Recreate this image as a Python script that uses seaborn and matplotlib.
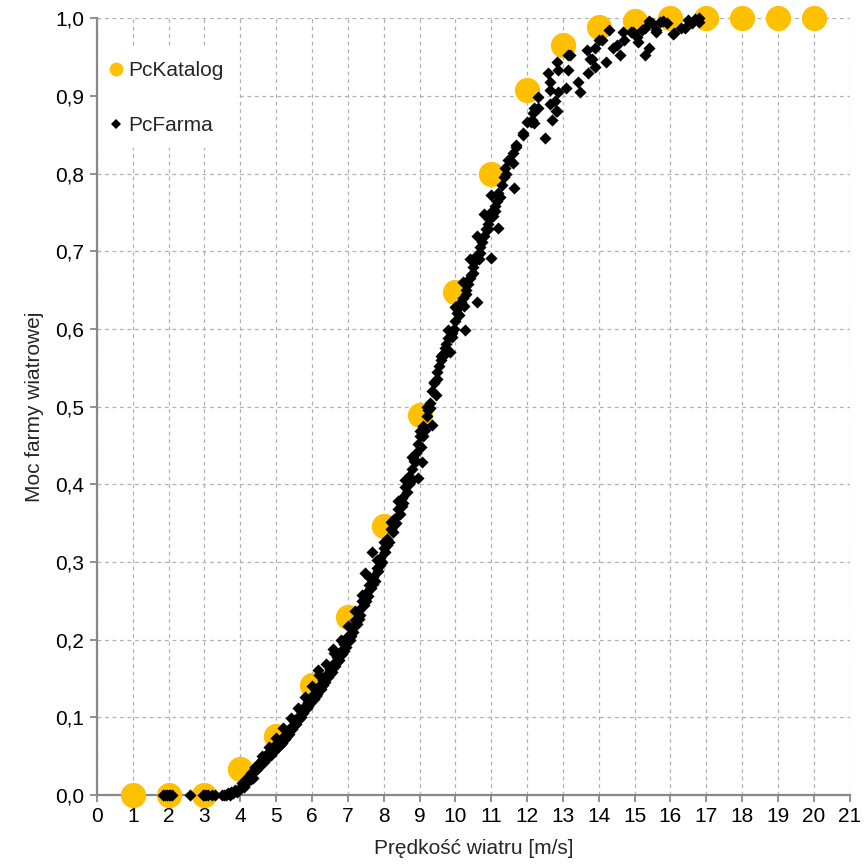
import matplotlib
matplotlib.use('Agg')
import matplotlib.pyplot as plt
from matplotlib.lines import Line2D
import numpy as np
import pandas as pd
import seaborn as sns

# catalogue power curve (gold circles)
katalog_v = [1, 2, 3, 4, 5, 6, 7, 8, 9, 10, 11, 12, 13, 14, 15, 16, 17, 18, 19, 20]
katalog_p = [0.0, 0.0, 0.0, 0.034, 0.076, 0.141, 0.229, 0.346, 0.489, 0.647, 0.799, 0.908,
             0.966, 0.989, 0.997, 1.0, 1.0, 1.0, 1.0, 1.0]

farma_v = [1.85, 1.9, 1.95, 2.0, 2.05, 2.1, 2.6, 2.95, 3.0, 3.05, 3.1, 3.2, 3.3,
           3.5, 3.55, 3.6, 3.65, 3.7, 3.75, 3.8, 3.85, 3.9, 3.95,
           4.0, 4.05, 4.1, 4.15, 4.2, 4.25, 4.3, 4.35, 4.4, 4.45, 4.5, 4.55, 4.6, 4.65,
           4.7, 4.75, 4.8, 4.85, 4.9, 4.95, 5.0, 5.05, 5.1, 5.15, 5.2, 5.25, 5.3, 5.35,
           5.4, 5.45, 5.5, 5.55, 5.6, 5.65, 5.7, 5.75, 5.8, 5.85, 5.9, 5.95, 6.0, 6.05,
           6.1, 6.15, 6.2, 6.25, 6.3, 6.35, 6.4, 6.45, 6.5, 6.55, 6.6, 6.65, 6.7, 6.75,
           6.8, 6.85, 6.9, 6.95, 7.0, 7.05, 7.1, 7.15, 7.2, 7.25, 7.3, 7.35, 7.4, 7.45,
           7.5, 7.55, 7.6, 7.65, 7.7, 7.75, 7.8, 7.85, 7.9, 7.95, 8.0, 8.05, 8.1, 8.15,
           8.2, 8.25, 8.3, 8.35, 8.4, 8.45, 8.5, 8.55, 8.6, 8.65, 8.7, 8.75, 8.8, 8.85,
           8.9, 8.95, 9.0, 9.05, 9.1, 9.15, 9.2, 9.25, 9.3, 9.35, 9.4, 9.45, 9.5, 9.55,
           9.6, 9.65, 9.7, 9.75, 9.8, 9.85, 9.9, 9.95, 10.0, 10.05, 10.1, 10.15, 10.2,
           10.25, 10.3, 10.35, 10.4, 10.45, 10.5, 10.55, 10.6, 10.65, 10.7, 10.75, 10.8,
           10.85, 10.9, 10.95, 11.0, 11.05, 11.1, 11.15, 11.2, 11.25, 11.3, 11.35, 11.4,
           # second pass along the band
           4.1, 4.3, 4.5, 4.7, 4.9, 5.1, 5.3, 5.5, 5.7, 5.9, 6.1, 6.3, 6.5, 6.7, 6.9,
           7.1, 7.3, 7.5, 7.7, 7.9, 8.1, 8.3, 8.5, 8.7, 8.9, 9.1, 9.3, 9.5, 9.7, 9.9,
           10.1, 10.3, 10.5, 10.7, 10.9, 11.1,
           # third pass, left edge of the band
           4.2, 4.4, 4.6, 4.8, 5.0, 5.2, 5.4, 5.6, 5.8, 6.0, 6.2, 6.4, 6.6, 6.8, 7.0,
           7.2, 7.4, 7.6, 7.8, 8.0, 8.2, 8.4, 8.6, 8.8, 9.0, 9.2, 9.4, 9.6, 9.8, 10.0,
           10.2, 10.4, 10.6, 10.8, 11.0,
           # outliers
           6.16, 6.58, 7.47, 7.67, 8.95, 9.06, 9.34, 10.26, 10.6, 11.0, 11.2,
           # upper part
           11.38, 11.46, 11.52, 11.6, 11.6, 11.65, 11.7, 11.7, 11.88, 11.9, 12.0, 12.1,
           12.13, 12.16, 12.2, 12.2, 12.3, 12.3, 12.5, 12.58, 12.63, 12.63, 12.63, 12.7,
           12.77, 12.8, 12.83, 12.83, 12.86, 12.86, 13.1, 13.13, 13.13, 13.2, 13.41,
           13.47, 13.66, 13.7, 13.75, 13.8, 13.9, 13.9, 14.0, 14.08, 14.2, 14.3, 14.4,
           14.5, 14.6, 14.67, 14.7, 14.9, 14.95, 15.06, 15.1, 15.2, 15.3, 15.3, 15.4,
           15.4, 15.5, 15.6, 15.6, 15.7, 15.8, 15.9, 16.06, 16.1, 16.3, 16.4, 16.5,
           16.6, 16.7, 16.8, 16.8]
farma_p = [0.0, 0.0, 0.0, 0.0, 0.0, 0.0, 0.0, 0.0, 0.0, 0.0, 0.0, 0.0, 0.0,
           0.0, 0.0, 0.0, 0.002, 0.0, 0.004, 0.002, 0.006, 0.004, 0.008,
           0.008, 0.015, 0.012, 0.02, 0.018, 0.025, 0.028, 0.022, 0.035, 0.032, 0.04,
           0.038, 0.045, 0.042, 0.05, 0.047, 0.055, 0.052, 0.06, 0.057, 0.065, 0.062,
           0.07, 0.067, 0.075, 0.072, 0.082, 0.078, 0.088, 0.085, 0.095, 0.092, 0.1,
           0.098, 0.108, 0.105, 0.115, 0.112, 0.12, 0.118, 0.128, 0.124, 0.135, 0.13,
           0.14, 0.137, 0.148, 0.145, 0.155, 0.152, 0.162, 0.158, 0.17, 0.166, 0.178,
           0.174, 0.186, 0.182, 0.195, 0.19, 0.205, 0.2, 0.215, 0.21, 0.225, 0.22,
           0.238, 0.232, 0.25, 0.245, 0.26, 0.256, 0.27, 0.266, 0.28, 0.276, 0.292,
           0.288, 0.305, 0.3, 0.318, 0.313, 0.33, 0.326, 0.343, 0.338, 0.355, 0.35,
           0.368, 0.362, 0.382, 0.376, 0.396, 0.39, 0.41, 0.404, 0.42, 0.43, 0.44,
           0.452, 0.462, 0.448, 0.475, 0.47, 0.488, 0.495, 0.505, 0.52, 0.53, 0.515,
           0.545, 0.552, 0.56, 0.568, 0.575, 0.58, 0.588, 0.57, 0.595, 0.6, 0.61, 0.62,
           0.628, 0.635, 0.64, 0.63, 0.65, 0.658, 0.665, 0.67, 0.68, 0.688, 0.695,
           0.69, 0.705, 0.712, 0.72, 0.728, 0.735, 0.742, 0.75, 0.745, 0.758, 0.765,
           0.775, 0.77, 0.785, 0.795, 0.8,
           0.01, 0.02, 0.035, 0.046, 0.055, 0.064, 0.076, 0.09, 0.101, 0.114, 0.127,
           0.142, 0.156, 0.171, 0.186, 0.205, 0.226, 0.25, 0.272, 0.296, 0.322, 0.348,
           0.372, 0.4, 0.43, 0.462, 0.498, 0.535, 0.568, 0.59, 0.618, 0.645, 0.672,
           0.698, 0.728, 0.752,
           0.022, 0.036, 0.05, 0.062, 0.074, 0.086, 0.099, 0.112, 0.126, 0.14, 0.154,
           0.168, 0.183, 0.2, 0.218, 0.237, 0.258, 0.28, 0.302, 0.326, 0.352, 0.378,
           0.405, 0.435, 0.468, 0.5, 0.532, 0.565, 0.598, 0.628, 0.66, 0.69, 0.72,
           0.748, 0.772,
           0.161, 0.188, 0.286, 0.313, 0.408, 0.429, 0.476, 0.598, 0.635, 0.691, 0.73,
           0.807, 0.817, 0.817, 0.813, 0.826, 0.781, 0.834, 0.837, 0.849, 0.852, 0.866,
           0.866, 0.869, 0.878, 0.884, 0.865, 0.898, 0.885, 0.846, 0.93, 0.918, 0.907,
           0.89, 0.869, 0.894, 0.88, 0.943, 0.88, 0.905, 0.933, 0.91, 0.952, 0.933,
           0.952, 0.918, 0.905, 0.959, 0.929, 0.948, 0.948, 0.937, 0.961, 0.972, 0.972,
           0.943, 0.985, 0.961, 0.965, 0.952, 0.982, 0.972, 0.982, 0.982, 0.976, 0.969,
           0.985, 0.952, 0.988, 0.962, 0.997, 0.994, 0.985, 0.982, 0.995, 0.997, 0.994,
           0.98, 0.981, 0.987, 0.987, 0.998, 0.994, 0.999, 0.995, 1.0]

x_ticks = list(range(0, 22))
y_ticks = [i / 10 for i in range(0, 11)]
y_labels = ['0,0', '0,1', '0,2', '0,3', '0,4', '0,5', '0,6', '0,7', '0,8', '0,9', '1,0']

katalog = pd.DataFrame({'v': katalog_v, 'p': katalog_p})
farma = pd.DataFrame({'v': farma_v, 'p': farma_p})

sns.set_style('white')
plt.rcParams['font.family'] = ['Liberation Sans', 'DejaVu Sans']

fig = plt.figure(figsize=(8.66, 8.66), dpi=100)
ax = fig.add_axes([0.112, 0.082, 0.869, 0.897])

sns.scatterplot(data=katalog, x='v', y='p', ax=ax, color='#FFC000', s=330,
                marker='o', linewidth=0, zorder=3, clip_on=False)
sns.scatterplot(data=farma, x='v', y='p', ax=ax, color='black', s=38,
                marker='D', linewidth=0, zorder=4, clip_on=False)

ax.set_xlim(0, 21)
ax.set_ylim(0, 1.0)
ax.set_xticks(x_ticks)
ax.set_yticks(y_ticks)
ax.set_yticklabels(y_labels)
ax.tick_params(axis='both', labelsize=15, colors='#888888', labelcolor='black',
               direction='out', length=5, width=1.3, left=True, bottom=True, pad=4)
ax.grid(True, color='#b0b0b0', linestyle=(0, (3, 3)), linewidth=0.9)
ax.set_axisbelow(True)
for side in ['top', 'right']:
    ax.spines[side].set_visible(False)
for side in ['left', 'bottom']:
    ax.spines[side].set_color('#888888')
    ax.spines[side].set_linewidth(1.6)

ax.set_xlabel('Prędkość wiatru [m/s]', fontsize=15, labelpad=9)
ax.set_ylabel('Moc farmy wiatrowej', fontsize=15, labelpad=8)

handles = [Line2D([], [], linestyle='none', marker='o', markersize=10,
                  markerfacecolor='#FFC000', markeredgewidth=0, label='PcKatalog'),
           Line2D([], [], linestyle='none', marker='D', markersize=5,
                  markerfacecolor='black', markeredgewidth=0, label='PcFarma')]
leg = ax.legend(handles=handles, loc='upper left', bbox_to_anchor=(0.0, 0.961),
                fontsize=15, frameon=True, framealpha=1, facecolor='white',
                edgecolor='none', labelspacing=1.75, borderpad=0.6,
                handlelength=0.6, handletextpad=0.3, borderaxespad=0.0)
# keep the white legend box above the grid but under the axis line
leg.set_zorder(2.4)

plt.savefig('out.png', dpi=100)
